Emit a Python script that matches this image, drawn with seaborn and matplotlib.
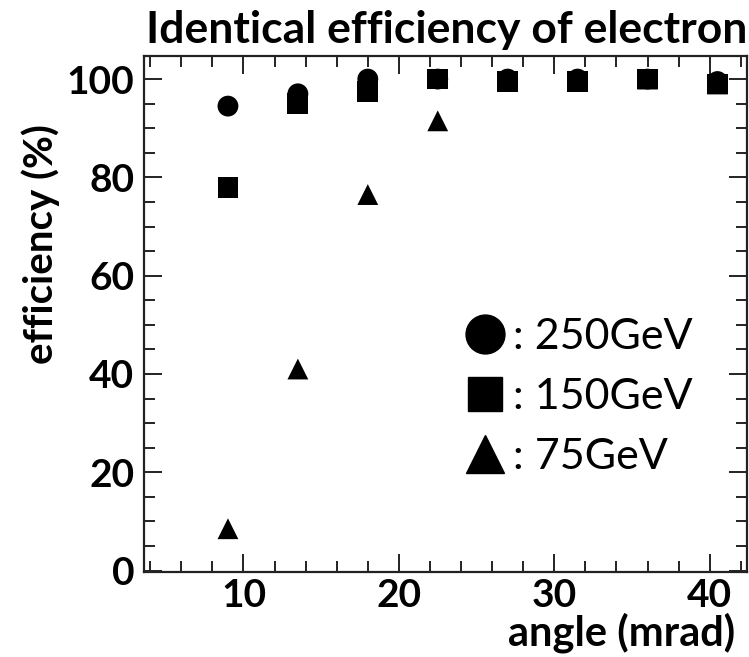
import matplotlib
matplotlib.use("Agg")
import matplotlib.pyplot as plt
from matplotlib.lines import Line2D
from matplotlib.ticker import MultipleLocator
import pandas as pd
import seaborn as sns

# Beam-crossing angle (mrad)
angles = [9.0, 13.5, 18.0, 22.5, 27.0, 31.5, 36.0, 40.5]
# Electron identification efficiency (%) per beam energy
eff_250 = [94.5, 97.0, 100.0, 100.0, 100.0, 100.0, 100.0, 99.5]
eff_150 = [78.0, 95.0, 97.5, 100.0, 99.5, 99.5, 100.0, 99.0]
eff_75 = [8.5, 41.0, 76.5, 91.5, 99.5, 99.5, 100.0, 99.0]

energies = ["250GeV", "150GeV", "75GeV"]
markers = {"250GeV": "o", "150GeV": "s", "75GeV": "^"}

df = pd.DataFrame({
    "angle": angles * 3,
    "efficiency": eff_250 + eff_150 + eff_75,
    "energy": [energies[0]] * len(angles) + [energies[1]] * len(angles) + [energies[2]] * len(angles),
})

sns.set_style("ticks")
plt.rcParams["font.family"] = ["Lato", "DejaVu Sans"]
plt.rcParams["text.color"] = "black"
plt.rcParams["axes.labelcolor"] = "black"
plt.rcParams["xtick.labelcolor"] = "black"
plt.rcParams["ytick.labelcolor"] = "black"

fig = plt.figure(figsize=(7.49, 6.57), dpi=100)
ax = fig.add_axes([0.1923, 0.1294, 0.8050, 0.7854])

sns.scatterplot(
    data=df, x="angle", y="efficiency", style="energy", markers=markers,
    style_order=energies, color="black", s=15.0 ** 2, linewidth=0,
    legend=False, ax=ax,
)

ax.set_xlim(3.6, 42.4)
ax.set_ylim(-0.3, 104.7)

ax.xaxis.set_major_locator(MultipleLocator(10))
ax.xaxis.set_minor_locator(MultipleLocator(2))
ax.yaxis.set_major_locator(MultipleLocator(20))
ax.yaxis.set_minor_locator(MultipleLocator(5))

for side in ["left", "right", "top", "bottom"]:
    ax.spines[side].set_visible(True)
    ax.spines[side].set_linewidth(1.6)
    ax.spines[side].set_color("#222222")

ax.tick_params(which="both", direction="in", top=True, right=True,
               color="#222222", width=1.4)
ax.tick_params(which="major", length=13)
ax.tick_params(which="minor", length=8)
ax.tick_params(axis="y", which="major", pad=7, labelsize=28, labelcolor="black")
ax.tick_params(axis="x", which="major", pad=4, labelsize=28, labelcolor="black")
for lab in ax.get_xticklabels() + ax.get_yticklabels():
    lab.set_fontweight("bold")

ax.set_xlabel("angle (mrad)", fontsize=30, fontweight="bold", color="black")
ax.xaxis.set_label_coords(0.98, -0.118)
ax.xaxis.label.set_horizontalalignment("right")
ax.xaxis.label.set_verticalalignment("center")

ax.set_ylabel("efficiency (%)", fontsize=29, fontweight="bold", color="black")
ax.yaxis.set_label_coords(-0.172, 0.635)
ax.yaxis.label.set_verticalalignment("center")

fig.text(0.597, 0.955, "Identical efficiency of electron", fontsize=32,
         fontweight="bold", ha="center", va="center", color="black")

handles = [
    Line2D([], [], marker="o", color="black", linestyle="none", markersize=28),
    Line2D([], [], marker="s", color="black", linestyle="none", markersize=25),
    Line2D([], [], marker="^", color="black", linestyle="none", markersize=28),
]
ax.legend(handles, [": 250GeV", ": 150GeV", ": 75GeV"], loc="upper left",
          bbox_to_anchor=(0.53, 0.493), frameon=False, fontsize=31,
          handlelength=1.0, handletextpad=0.15, labelspacing=0.52,
          borderpad=0.0, borderaxespad=0.0, labelcolor="black")

fig.savefig("out.png", dpi=100)
